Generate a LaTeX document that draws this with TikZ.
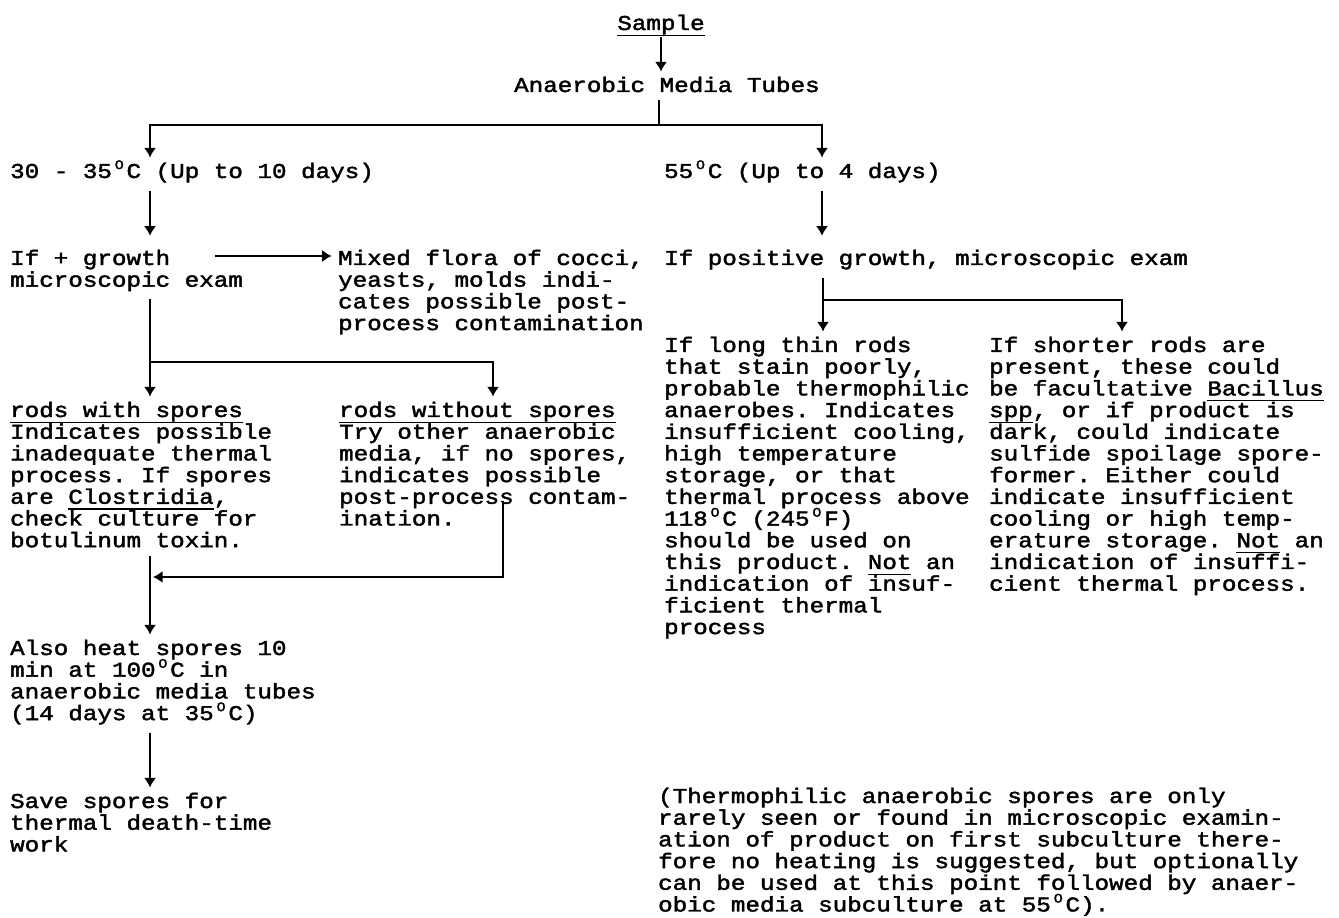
\documentclass[tikz,border=0pt]{standalone}
\usepackage{fontspec}
\usetikzlibrary{arrows.meta}
\newfontfamily\typefont[FakeStretch=1.15,FakeBold=2]{Liberation Mono}
\newcommand{\typetext}{\typefont\fontsize{12}{12.35}\selectfont\lineskiplimit=-8pt\spaceskip=8.28pt\relax}
\newsavebox\ulbox
\newcommand{\typeul}[1]{\leavevmode\sbox\ulbox{#1}\rlap{\rule[-3.4pt]{\wd\ulbox}{0.8pt}}\usebox\ulbox}
\newcommand{\dg}{\makebox[8.28pt]{\raisebox{0.8ex}{\fontsize{7.5}{7.5}\selectfont O}}}

\begin{document}
\begin{tikzpicture}[x=0.02cm, y=-0.02cm, line width=1.3pt,
	typed/.style={font=\typetext},
	txt/.style={typed, text width=13cm, anchor=base west,
		inner xsep=0pt, inner ysep=4pt, text height=7pt,
		execute at begin node={\spaceskip=8.28pt\xspaceskip=8.28pt\relax}},
	arr/.style={-{Latex[length=5.5pt,width=7pt]}}]
	\useasboundingbox (0,0) rectangle (1339,918);
	\node[typed, anchor=base, inner ysep=0pt] (sample) at (661,30) {\typeul{Sample}};
	\node[txt] (tubes) at (513,92) {Anaerobic Media Tubes};
	\node[txt] (lowtemp) at (9,178) {30 - 35\dg C (Up to 10 days)};
	\node[txt] (hightemp) at (663,178) {55\dg C (Up to 4 days)};
	\node[txt] (growthL) at (9,265) {If + growth\\microscopic exam};
	\node[txt] (mixed) at (337,265) {Mixed flora of cocci,\\yeasts, molds indi-\\cates possible post-\\process contamination};
	\node[txt] (growthR) at (663,265) {If positive growth, microscopic exam};
	\node[txt] (thinrods) at (663,352) {If long thin rods\\that stain poorly,\\probable thermophilic\\anaerobes. Indicates\\insufficient cooling,\\high temperature\\storage, or that\\thermal process above\\118\dg C (245\dg F)\\should be used on\\this product. \typeul{Not} an\\indication of insuf-\\ficient thermal\\process};
	\node[txt] (shortrods) at (988,352) {If shorter rods are\\present, these could\\be facultative \typeul{Bacillus}\\\typeul{spp}, or if product is\\dark, could indicate\\sulfide spoilage spore-\\former. Either could\\indicate insufficient\\cooling or high temp-\\erature storage. \typeul{Not} an\\indication of insuffi-\\cient thermal process.};
	\node[txt] (withspores) at (9,417) {\typeul{rods with spores}\\Indicates possible\\inadequate thermal\\process. If spores\\are \typeul{Clostridia},\\check culture for\\botulinum toxin.};
	\node[txt] (withoutspores) at (338,417) {\typeul{rods without spores}\\Try other anaerobic\\media, if no spores,\\indicates possible\\post-process contam-\\ination.};
	\node[txt] (heat) at (9,655) {Also heat spores 10\\min at 100\dg C in\\anaerobic media tubes\\(14 days at 35\dg C)};
	\node[txt] (save) at (9,808) {Save spores for\\thermal death-time\\work};
	\node[txt] (note) at (657,803) {(Thermophilic anaerobic spores are only\\rarely seen or found in microscopic examin-\\ation of product on first subculture there-\\fore no heating is suggested, but optionally\\can be used at this point followed by anaer-\\obic media subculture at 55\dg C).};

	\coordinate (colL) at (150,0);
	\coordinate (colR) at (822,0);
	\coordinate (split1) at (659,125);
	\coordinate (flowstart) at (215,256);
	\coordinate (split2) at (150,362);
	\coordinate (corner2) at (493,362);
	\coordinate (split3) at (823,300);
	\coordinate (corner3) at (1122,300);
	\coordinate (retstart) at (503,503);
	\coordinate (retend) at (153,577);

	\draw[arr] (sample.south) -- (sample.south |- tubes.north);
	\draw (tubes.south -| split1) -- (split1);
	\draw[arr] (split1) -| (colL |- lowtemp.north);
	\draw[arr] (split1) -| (colR |- hightemp.north);
	\draw[arr, shorten >=5pt] (colL |- lowtemp.south) -- (colL |- growthL.north);
	\draw[arr, shorten >=5pt] (colR |- hightemp.south) -- (colR |- growthR.north);
	\draw[arr, shorten >=3pt] (flowstart) -- (flowstart -| mixed.west);
	\draw (colL |- growthL.south) -- (split2);
	\draw[arr] (split2) -- (split2 |- withspores.north);
	\draw[arr] (split2) -- (corner2) -- (corner2 |- withoutspores.north);
	\draw (split3 |- growthR.south) -- (split3);
	\draw[arr] (split3) -- (split3 |- thinrods.north);
	\draw[arr] (split3) -- (corner3) -- (corner3 |- shortrods.north);
	\draw[arr] (retstart) |- (retend);
	\draw[arr] (colL |- withspores.south) -- (colL |- heat.north);
	\draw[arr] (colL |- heat.south) -- (colL |- save.north);
\end{tikzpicture}
\end{document}
